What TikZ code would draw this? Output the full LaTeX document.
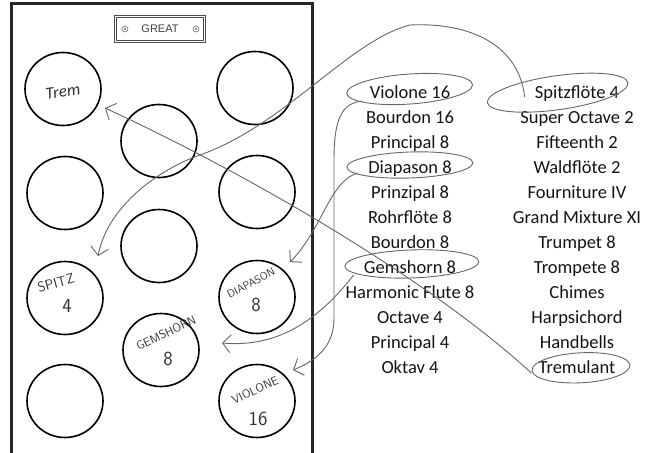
\documentclass[tikz,border=0pt]{standalone}
\usepackage{fontspec}
\setmainfont{Carlito}
\newfontfamily\platefont{Liberation Sans}
\usetikzlibrary{arrows.meta,shapes.geometric}

\tikzset{
  knob/.style={ellipse,draw=black,line width=1.6pt,minimum width=76pt,
               minimum height=73pt,inner sep=0pt},
  scrawl/.style={text=black!80,inner sep=0pt,font=\sffamily\fontsize{11}{11}\selectfont},
  bigscrawl/.style={scrawl,font=\sffamily\fontsize{20}{20}\selectfont},
  pipe/.style={text=black!92,inner sep=2pt,text height=12pt,text depth=4pt,
               font=\fontsize{18.5}{20}\selectfont},
  pick/.style={draw=black!60,line width=0.9pt},
  link/.style={->,draw=black!60,line width=0.9pt},
  screw/.style={circle,draw=black!60,line width=0.6pt,minimum size=6pt,inner sep=0pt}
}

\begin{document}
\begin{tikzpicture}[x=1pt,y=-1pt,>={Straight Barb[length=8pt,width=18pt]},
                    node distance=25pt,semithick]
  \useasboundingbox (0,0) rectangle (652,452);

  % console panel
  \draw[line width=3.5pt,black!85] (11.5,3.5) rectangle (312.5,470);

  % name plate
  \node[draw=black!70,double,double distance=1.4pt,line width=0.8pt,
        minimum width=89pt,minimum height=25pt,text=black!75,
        font=\platefont\fontsize{11}{13}\selectfont] (plate) at (160,29) {GREAT};
  \node[screw] (lscrew) at (125,29) {};
  \node[screw] (rscrew) at (196,29) {};
  \fill[black!60] (lscrew) circle (1.2pt) (rscrew) circle (1.2pt);

  % stop knobs
  \node[knob] (ctrem)  at (63,89)   {};
  \node[knob] (c1)     at (255,88)  {};
  \node[knob] (c2)     at (159,141) {};
  \node[knob] (c3)     at (65,193)  {};
  \node[knob] (c4)     at (257,192) {};
  \node[knob] (c5)     at (159,246) {};
  \node[knob] (cspitz) at (65,298)  {};
  \node[knob] (cdiap)  at (257,297) {};
  \node[knob] (cgems)  at (161,350) {};
  \node[knob] (c6)     at (65,401)  {};
  \node[knob] (cviol)  at (257,401) {};

  % pencilled names
  \node[scrawl,rotate=8,font=\itshape\fontsize{17}{17}\selectfont] (ltrem) at (63,92) {Trem};
  \node[scrawl,rotate=15,font=\sffamily\fontsize{14}{14}\selectfont] (lspitz) at (56,283) {SPITZ};
  \node[bigscrawl]        (lspitz4) at (67,306)  {4};
  \node[scrawl,rotate=28] (ldiap)   at (251,283) {DIAPASON};
  \node[bigscrawl]        (ldiap8)  at (256,305) {8};
  \node[scrawl,rotate=25,font=\sffamily\fontsize{12}{12}\selectfont] (lgems) at (166,333) {GEMSHORN};
  \node[bigscrawl]        (lgems8)  at (168,359) {8};
  \node[scrawl,rotate=25,font=\sffamily\fontsize{12}{12}\selectfont] (lviol) at (255,390) {VIOLONE};
  \node[bigscrawl]        (lviol16) at (258,419) {16};

  % stop list
  \node[pipe] (vl16) at (410,94)     {Violone 16};
  \node[pipe] (bd16) [below of=vl16] {Bourdon 16};
  \node[pipe] (pr8)  [below of=bd16] {Principal 8};
  \node[pipe] (di8)  [below of=pr8]  {Diapason 8};
  \node[pipe] (pz8)  [below of=di8]  {Prinzipal 8};
  \node[pipe] (rf8)  [below of=pz8]  {Rohrflöte 8};
  \node[pipe] (bd8)  [below of=rf8]  {Bourdon 8};
  \node[pipe] (gm8)  [below of=bd8]  {Gemshorn 8};
  \node[pipe] (hf8)  [below of=gm8]  {Harmonic Flute 8};
  \node[pipe] (oc4)  [below of=hf8]  {Octave 4};
  \node[pipe] (pr4)  [below of=oc4]  {Principal 4};
  \node[pipe] (ok4)  [below of=pr4]  {Oktav 4};

  \node[pipe] (sp4)  at (577,94)     {Spitzflöte 4};
  \node[pipe] (so2)  [below of=sp4]  {Super Octave 2};
  \node[pipe] (ft2)  [below of=so2]  {Fifteenth 2};
  \node[pipe] (wf2)  [below of=ft2]  {Waldflöte 2};
  \node[pipe] (fiv)  [below of=wf2]  {Fourniture IV};
  \node[pipe] (gmx)  [below of=fiv]  {Grand Mixture XI};
  \node[pipe] (tp8)  [below of=gmx]  {Trumpet 8};
  \node[pipe] (te8)  [below of=tp8]  {Trompete 8};
  \node[pipe] (chm)  [below of=te8]  {Chimes};
  \node[pipe] (hps)  [below of=chm]  {Harpsichord};
  \node[pipe] (hbl)  [below of=hps]  {Handbells};
  \node[pipe] (trm)  [below of=hbl]  {Tremulant};

  % circled picks
  \draw[pick,rotate around={4:(vl16.center)}] ([shift={(0,-5)}]vl16.center) ellipse [x radius=63pt,y radius=15pt];
  \draw[pick,rotate around={2:(di8.center)}] ([shift={(0,-4)}]di8.center) ellipse [x radius=63pt,y radius=13pt];
  \draw[pick,rotate around={2:(gm8.center)}] ([shift={(2,-5)}]gm8.center) ellipse [x radius=67pt,y radius=14pt];
  \draw[pick,rotate around={8:(sp4.center)}] ([shift={(-19,-4)}]sp4.center) ellipse [x radius=71pt,y radius=17pt];
  \draw[pick,rotate around={3:(trm.center)}] ([shift={(4,-1)}]trm.center) ellipse [x radius=49pt,y radius=15pt];

  % where each one goes
  \draw[link] ([shift={(-5,7)}]vl16.west) .. controls (342,103) and (334,118) .. (334,160)
              -- (334,318) .. controls (334,345) and (318,360) .. ([shift={(36,-31)}]cviol.center);
  \draw[link] ([shift={(-8,4)}]di8.west) .. controls (330,180) and (322,230) .. ([shift={(33,-35)}]cdiap.center);
  \draw[link] ([shift={(-8,6)}]gm8.west) .. controls (320,318) and (280,348) .. ([shift={(61,-7)}]cgems.center);
  \draw[link] ([shift={(-8,3)}]sp4.west) .. controls (519,45) and (470,22) .. (410,25)
              .. controls (350,40) and (285,125) .. (200,155)
              .. controls (160,169) and (108,205) .. ([shift={(33,-42)}]cspitz.center);
  \draw[link] ([shift={(-5,4)}]trm.west) .. controls (430,280) and (250,175) .. ([shift={(42,19)}]ctrem.center);
\end{tikzpicture}
\end{document}
